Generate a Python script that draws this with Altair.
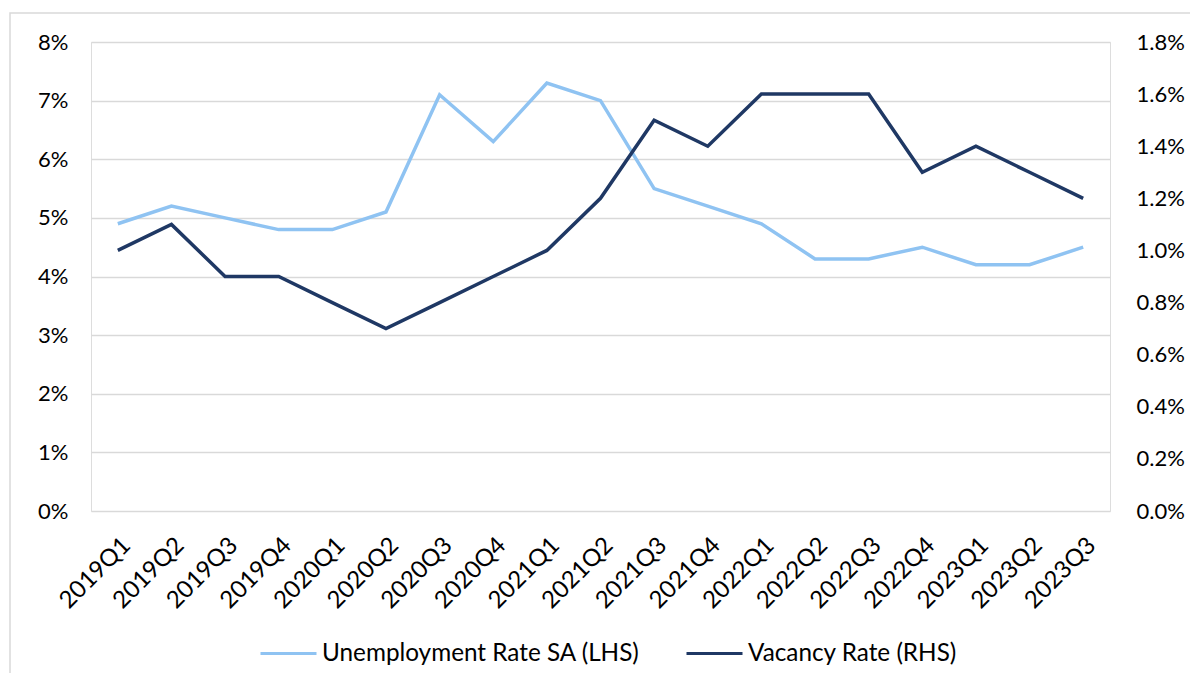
import altair as alt
import pandas as pd

quarters = ["2019Q1", "2019Q2", "2019Q3", "2019Q4", "2020Q1", "2020Q2", "2020Q3", "2020Q4",
            "2021Q1", "2021Q2", "2021Q3", "2021Q4", "2022Q1", "2022Q2", "2022Q3", "2022Q4",
            "2023Q1", "2023Q2", "2023Q3"]
unemployment = [4.9, 5.2, 5.0, 4.8, 4.8, 5.1, 7.1, 6.3, 7.3, 7.0, 5.5, 5.2, 4.9, 4.3, 4.3, 4.5, 4.2, 4.2, 4.5]
vacancy = [1.0, 1.1, 0.9, 0.9, 0.8, 0.7, 0.8, 0.9, 1.0, 1.2, 1.5, 1.4, 1.6, 1.6, 1.6, 1.3, 1.4, 1.3, 1.2]
series_names = ["Unemployment Rate SA (LHS)", "Vacancy Rate (RHS)"]
series_colors = ["#8FC3F2", "#1F3864"]
left_ticks = [0, 1, 2, 3, 4, 5, 6, 7, 8]
right_ticks = [0.0, 0.2, 0.4, 0.6, 0.8, 1.0, 1.2, 1.4, 1.6, 1.8]

FONT = "Lato"
FS = 22

df = pd.DataFrame({
    "quarter": quarters * 2,
    "series": [series_names[0]] * len(quarters) + [series_names[1]] * len(quarters),
    "value": unemployment + vacancy,
})

x = alt.X("quarter:N", sort=quarters, scale=alt.Scale(type="point", padding=0.5),
          axis=alt.Axis(title=None, labelAngle=-45, labelFontSize=24, labelFont=FONT,
                        labelColor="#000000", domain=False, ticks=False, labelPadding=22,
                        grid=False))

color = alt.Color("series:N", scale=alt.Scale(domain=series_names, range=series_colors),
                  legend=alt.Legend(title=None, orient="none", legendX=168, legendY=582,
                                    direction="horizontal", symbolType="stroke",
                                    symbolStrokeWidth=3, symbolSize=3136,
                                    labelFontSize=24.3, labelFont=FONT, labelColor="#000000",
                                    labelOffset=4, columnPadding=40, labelLimit=500))

border = alt.Chart(pd.DataFrame({"a": [0]})).mark_rect(
    fill=None, stroke="#D9D9D9", strokeWidth=1.5
).encode(x=alt.value(-81), x2=alt.value(1200), y=alt.value(-29), y2=alt.value(700))

left = alt.Chart(df).transform_filter(alt.datum.series == series_names[0]).mark_line(
    strokeWidth=3.5
).encode(
    x=x,
    y=alt.Y("value:Q", scale=alt.Scale(domain=[0, 8], nice=False),
            axis=alt.Axis(title=None, values=left_ticks, labelExpr="datum.value + '%'",
                          labelFontSize=FS, labelFont=FONT, labelColor="#000000",
                          domain=False, ticks=False, labelPadding=23,
                          gridColor="#D9D9D9", gridWidth=1.5)),
    color=color,
)

right = alt.Chart(df).transform_filter(alt.datum.series == series_names[1]).mark_line(
    strokeWidth=3.5
).encode(
    x=x,
    y=alt.Y("value:Q", scale=alt.Scale(domain=[0, 1.8], nice=False),
            axis=alt.Axis(title=None, orient="right", values=right_ticks,
                          labelExpr="format(datum.value, '.1f') + '%'",
                          labelFontSize=FS, labelFont=FONT, labelColor="#000000",
                          domain=False, ticks=False, labelPadding=26, grid=False)),
    color=color,
)

chart = alt.layer(border, left, right).resolve_scale(y="independent").properties(
    width=1019, height=469,
    autosize=alt.AutoSizeParams(type="none"),
    padding={"left": 83, "top": 34, "right": 80, "bottom": 162},
).configure_view(stroke=None).configure(background="white")

chart.save("out.html", embed_options={"renderer": "svg", "actions": False})
